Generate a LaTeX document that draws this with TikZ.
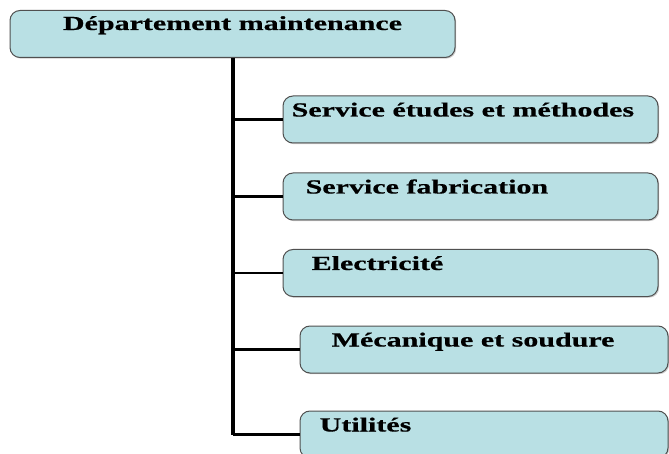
\documentclass[tikz,border=0pt]{standalone}
\usepackage{fontspec}
\setmainfont{Liberation Serif}
\newfontfamily\orgfont{Liberation Serif Bold}[FakeStretch=1.5,FakeBold=0.6]
\usepackage{xcolor}
\usepackage{tikz}
\usetikzlibrary{positioning,calc,shadows}
\definecolor{boxfill}{RGB}{185,224,228}
\definecolor{boxline}{RGB}{80,80,80}

\begin{document}
\begin{tikzpicture}[x=1pt,y=-1pt,
    unit/.style={draw=boxline,fill=boxfill,rounded corners=10pt,line width=1pt,
        minimum height=47pt,inner sep=0pt,
        drop shadow={shadow xshift=1.2pt,shadow yshift=-1.2pt,opacity=0.4}},
    unitlbl/.style={font=\orgfont\fontsize{20}{24}\selectfont,inner sep=0pt},
    link/.style={line width=2.4pt}]
        \clip (0,0) rectangle (669,454);

        % Department box
        \node[unit,minimum width=445pt] (dept) at (232.5,34) {};
        \node[unitlbl,anchor=base] (dept-t) at ($(dept.north)+(0,20)$) {Département maintenance};

        % Service boxes
        \foreach \name/\cx/\cy/\w/\dx/\txt in {
            etudes/470.5/119.5/375/9/Service études et méthodes,
            fabric/470.5/196.5/375/23/Service fabrication,
            elec/470.5/273/375/29/Electricité,
            meca/484/349.5/368/32/Mécanique et soudure,
            util/484/434.5/368/20/Utilités} {
            \node[unit,minimum width=\w pt] (\name) at (\cx,\cy) {};
            \node[unitlbl,anchor=base west] (\name-t) at ($(\name.north west)+(\dx,21)$) {\txt};
        }

        % Tree lines
        \draw[line width=4pt] (dept.south) -- (dept.south |- util.west);
        \foreach \name in {etudes,fabric,elec,meca,util}
            \draw[link] (dept.south |- \name.west) -- (\name.west);
    \end{tikzpicture}
\end{document}
